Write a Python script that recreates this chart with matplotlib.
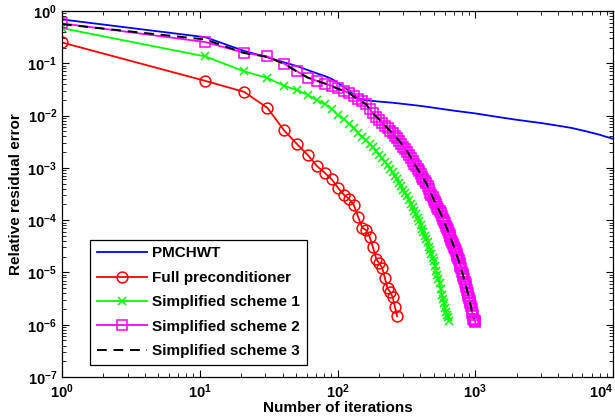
import matplotlib
matplotlib.use("Agg")
import matplotlib.pyplot as plt
from matplotlib.ticker import LogLocator, FixedLocator, FixedFormatter, NullFormatter

plt.rcParams['font.family'] = ['Liberation Sans', 'DejaVu Sans']
plt.rcParams['font.weight'] = 'bold'
plt.rcParams['mathtext.fontset'] = 'custom'
plt.rcParams['mathtext.rm'] = 'Liberation Sans:bold'
plt.rcParams['mathtext.bf'] = 'Liberation Sans:bold'
plt.rcParams['mathtext.it'] = 'Liberation Sans:bold'

# ---------------- data ----------------
step_n = list(range(1, 1002, 10))

pmchwt_n = [1, 11, 21, 31, 41, 51, 61, 71, 81, 91, 101, 121, 141, 161, 181, 201,
            251, 301, 401, 501, 701, 1001, 1501, 2001, 3001, 4001, 5001, 6001,
            7001, 8001, 9001, 10000]
pmchwt_v = [0.69, 0.315, 0.172, 0.13, 0.104, 0.088, 0.074, 0.064, 0.057, 0.050, 0.042,
            0.0300, 0.0212, 0.0196, 0.0190, 0.0185, 0.0176, 0.0167, 0.0153, 0.0141,
            0.0124, 0.0110, 0.0093, 0.0083, 0.0072, 0.0064, 0.0058, 0.0052, 0.0047,
            0.0043, 0.0039, 0.0036]

full_v = [0.25, 0.046, 0.0284, 0.0140, 0.0052, 0.00282, 0.00175, 0.00108, 0.00080,
          0.00060, 0.000413, 0.000308, 0.000257, 0.000198, 0.000117, 7.2e-5, 6.5e-5,
          4.85e-5, 3.0e-5, 1.83e-5, 1.49e-5, 1.23e-5, 7.7e-6, 4.95e-6, 4.26e-6,
          3.42e-6, 2.2e-6, 1.45e-6]

s1_v = [0.47, 0.135, 0.070, 0.0525, 0.037, 0.0306, 0.0248, 0.0197, 0.0166, 0.0132,
        0.0102, 0.0086, 0.0070, 0.0059, 0.00466, 0.00396, 0.00334, 0.00287, 0.00246,
        0.0021, 0.00177, 0.00151, 0.0013, 0.00112, 0.00097, 0.00082, 0.00069,
        0.0006, 0.000505, 0.00044, 0.000378, 0.000327, 0.000288, 0.000241, 0.000205,
        0.000175, 0.000149, 0.000129, 0.00011, 9.6e-5, 8.2e-5, 6.9e-5, 5.9e-5,
        5.05e-5, 4.3e-5, 3.78e-5, 3.1e-5, 2.64e-5, 2.26e-5, 1.89e-5, 1.62e-5,
        1.34e-5, 1.08e-5, 9.0e-6, 7.5e-6, 6.2e-6, 4.9e-6, 3.75e-6, 3.05e-6, 2.6e-6,
        2.12e-6, 1.77e-6, 1.53e-6, 1.42e-6, 1.18e-6]

s2_v = [0.58, 0.255, 0.159, 0.135, 0.098, 0.070, 0.053, 0.046, 0.041, 0.037, 0.033,
        0.0298, 0.0275, 0.0236, 0.0205, 0.0191, 0.0167, 0.0134, 0.0110, 0.0095, 0.0084,
        0.0073, 0.0064, 0.0057, 0.0051, 0.00456, 0.00412, 0.00374, 0.00327, 0.0029,
        0.00256, 0.00228, 0.00205, 0.00178, 0.00156, 0.00138, 0.00121, 0.00108,
        0.00095, 0.00086, 0.00077, 0.00068, 0.000625, 0.000566, 0.000506, 0.000458,
        0.000388, 0.000337, 0.000309, 0.000272, 0.000243, 0.000222, 0.0002, 0.000181,
        0.000165, 0.00015, 0.000134, 0.00012, 0.000107, 9.6e-5, 8.7e-5, 7.8e-5,
        7.1e-5, 6.4e-5, 5.76e-5, 5.2e-5, 4.74e-5, 4.2e-5, 3.84e-5, 3.47e-5,
        3.1e-5, 2.8e-5, 2.54e-5, 2.3e-5, 2.09e-5, 1.89e-5, 1.71e-5, 1.5e-5,
        1.31e-5, 1.19e-5, 1.04e-5, 9.3e-6, 8.4e-6, 7.4e-6, 6.7e-6, 5.9e-6, 5.2e-6,
        4.6e-6, 4.1e-6, 3.6e-6, 3.3e-6, 2.9e-6, 2.6e-6, 2.24e-6, 2.0e-6, 1.66e-6,
        1.53e-6, 1.3e-6, 1.24e-6, 1.18e-6, 1.12e-6]

s3_n = [1, 11, 21, 31, 41, 51, 61, 81, 101, 121, 141, 161, 181, 201, 241, 281, 321,
        381, 441, 501, 561, 631, 701, 781, 851, 911, 951, 981]
s3_v = [0.56, 0.285, 0.157, 0.133, 0.097, 0.069, 0.053, 0.041, 0.0325, 0.027, 0.020,
        0.0166, 0.011, 0.0084, 0.0051, 0.00327, 0.00206, 0.00095, 0.000506, 0.000243,
        0.000134, 6.4e-5, 3.1e-5, 1.31e-5, 5.9e-6, 2.9e-6, 1.66e-6, 1.3e-6]

full_n = step_n[:len(full_v)]
s1_n = step_n[:len(s1_v)]
s2_n = step_n[:len(s2_v)]

labels = ['PMCHWT', 'Full preconditioner', 'Simplified scheme 1',
          'Simplified scheme 2', 'Simplified scheme 3']
xtick_vals = [1, 10, 100, 1000, 10000]
xtick_labels = [r'$\mathbf{10^{0}}$', r'$\mathbf{10^{1}}$', r'$\mathbf{10^{2}}$',
                r'$\mathbf{10^{3}}$', r'$\mathbf{10^{4}}$']
ytick_vals = [1e-7, 1e-6, 1e-5, 1e-4, 1e-3, 1e-2, 1e-1, 1]
ytick_labels = [r'$\mathbf{10^{-7}}$', r'$\mathbf{10^{-6}}$', r'$\mathbf{10^{-5}}$',
                r'$\mathbf{10^{-4}}$', r'$\mathbf{10^{-3}}$', r'$\mathbf{10^{-2}}$',
                r'$\mathbf{10^{-1}}$', r'$\mathbf{10^{0}}$']

# ---------------- plot ----------------
fig = plt.figure(figsize=(6.15, 4.2), dpi=100)
ax = fig.add_axes([62/615, 1-377/420, 551/615, 366/420])

lw = 1.3
ax.plot(pmchwt_n, pmchwt_v, color='#0000ff', lw=lw, label=labels[0])
ax.plot(full_n, full_v, color='#ff0000', lw=lw, marker='o', ms=7.8, mfc='none',
        mew=1.1, label=labels[1])
ax.plot(s1_n, s1_v, color='#00ff00', lw=lw, marker='x', ms=5.5, mew=1.1, label=labels[2])
ax.plot(s2_n, s2_v, color='#ff00ff', lw=lw, marker='s', ms=6.8, mfc='none',
        mew=1.1, label=labels[3])
ax.plot(s3_n, s3_v, color='black', lw=1.4, ls=(0, (5, 3.5)), label=labels[4])

ax.set_xscale('log')
ax.set_yscale('log')
ax.set_xlim(1, 1e4)
ax.set_ylim(1e-7, 1)

ax.xaxis.set_major_locator(FixedLocator(xtick_vals))
ax.xaxis.set_major_formatter(FixedFormatter(xtick_labels))
ax.yaxis.set_major_locator(FixedLocator(ytick_vals))
ax.yaxis.set_major_formatter(FixedFormatter(ytick_labels))
ax.xaxis.set_minor_locator(LogLocator(base=10, subs=range(2, 10), numticks=20))
ax.yaxis.set_minor_locator(LogLocator(base=10, subs=range(2, 10), numticks=20))
ax.xaxis.set_minor_formatter(NullFormatter())
ax.yaxis.set_minor_formatter(NullFormatter())

ax.tick_params(which='both', direction='in', top=True, right=True, labelsize=10.5)
ax.tick_params(which='major', length=5, width=0.8)
ax.tick_params(which='minor', length=3, width=0.6)
ax.tick_params(axis='x', pad=4)
for sp in ax.spines.values():
    sp.set_linewidth(0.9)

fig.canvas.draw()
xl = ax.get_xticklabels()
xl[-1].set_horizontalalignment('right')

ax.set_xlabel('Number of iterations', fontsize=11, fontweight='bold', labelpad=0)
ax.set_ylabel('Relative residual error', fontsize=11, fontweight='bold', labelpad=3)

leg = ax.legend(loc='lower left', bbox_to_anchor=(0.051, 0.033), fontsize=11,
                frameon=True, fancybox=False, edgecolor='black', framealpha=1,
                handlelength=3.3, labelspacing=0.68, borderpad=0.45,
                handletextpad=0.3, borderaxespad=0)
leg.get_frame().set_linewidth(0.9)

fig.savefig('out.png', dpi=100)
